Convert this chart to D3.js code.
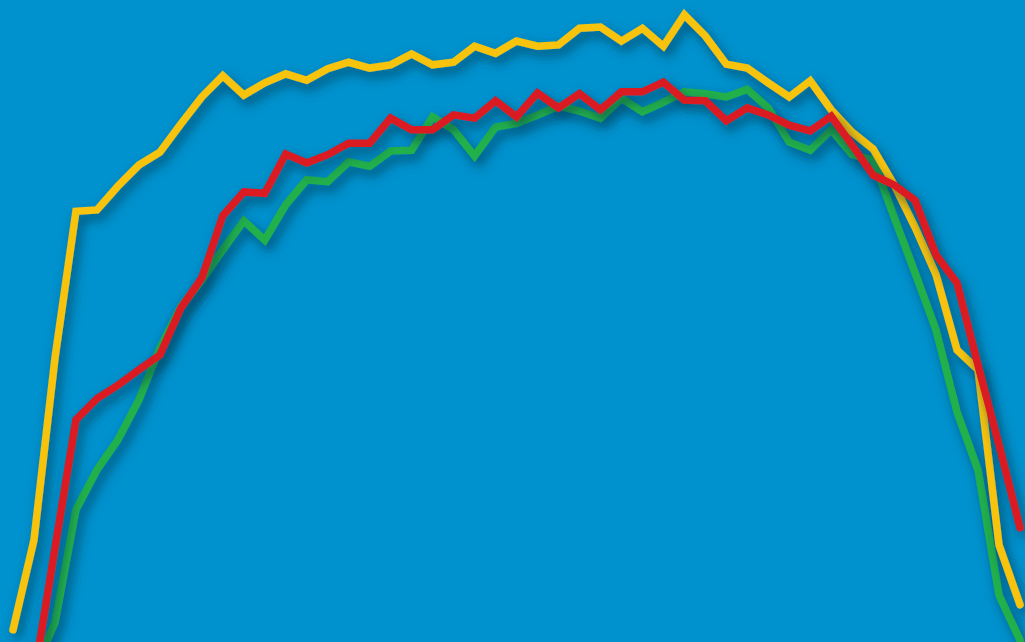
<!DOCTYPE html>
<html>
<head>
<meta charset="utf-8">
<script src="https://cdn.jsdelivr.net/npm/d3@7"></script>
<style>
  html, body { margin: 0; padding: 0; background: #0092CE; overflow: hidden; }
  svg { display: block; }
</style>
</head>
<body>
<script>
const categories = d3.range(1, 50);

const yellowValues = [1.9,15.9,44.2,67.1,67.3,71.0,74.3,76.3,80.7,84.9,88.2,85.2,87.1,88.5,87.5,89.3,90.3,89.4,89.9,91.6,89.9,90.3,92.8,91.7,93.6,92.8,93.0,95.6,95.8,93.6,95.6,92.8,97.7,94.4,90.0,89.4,87.1,84.9,87.4,82.9,79.4,76.8,71.2,64.6,57.2,45.5,42.4,15.1,5.8];

const redValues = [-24.6,-5.5,14.6,34.6,37.9,40.0,42.4,44.7,52.0,56.7,66.4,70.1,69.9,76.0,74.6,75.9,77.7,77.7,81.6,79.8,79.8,82.1,81.6,84.3,81.8,85.5,83.2,85.4,82.9,85.7,85.7,87.2,84.4,84.3,81.2,83.2,82.1,80.5,79.6,81.9,77.4,72.7,71.2,68.8,60.3,55.9,43.1,30.7,17.8];

const greenValues = [-18.4,-4.4,3.0,20.6,26.8,31.5,37.7,45.8,52.2,56.4,61.1,65.6,62.6,68.1,72.0,71.7,74.8,74.1,76.5,76.6,81.8,79.8,75.7,80.2,80.8,82.1,83.5,82.7,81.6,84.7,82.6,84.1,85.7,85.4,84.9,86.1,83.2,77.9,76.6,79.8,75.9,75.1,66.2,57.5,48.6,35.8,26.8,7.3,0.3];

const seriesNames = ["green", "yellow", "red"];
const seriesColors = ["#22B04B", "#F7C308", "#DA1A22"];
const seriesData = [greenValues, yellowValues, redValues];

const W = 1025, H = 642;
const svg = d3.select("body").append("svg")
  .attr("width", W).attr("height", H);

svg.append("rect").attr("width", W).attr("height", H).attr("fill", "#0092CE");

const defs = svg.append("defs");
const f = defs.append("filter").attr("id", "shadow")
  .attr("x", "-10%").attr("y", "-10%").attr("width", "130%").attr("height", "130%");
f.append("feDropShadow")
  .attr("dx", 4).attr("dy", 6).attr("stdDeviation", 6)
  .attr("flood-color", "#05314a").attr("flood-opacity", 0.7);

const x = d3.scalePoint().domain(categories).range([13, 1020]);
const y = d3.scaleLinear().domain([0, 100]).range([H, 0]);

const line = d3.line()
  .x((d, i) => x(categories[i]))
  .y(d => y(d));

seriesData.forEach((vals, k) => {
  svg.append("path")
    .datum(vals)
    .attr("d", line)
    .attr("fill", "none")
    .attr("stroke", seriesColors[k])
    .attr("stroke-width", 7.5)
    .attr("stroke-linejoin", "miter")
    .attr("stroke-miterlimit", 10)
    .attr("stroke-linecap", "round")
    .attr("filter", "url(#shadow)")
    .attr("class", "series-" + seriesNames[k]);
});
</script>
</body>
</html>
